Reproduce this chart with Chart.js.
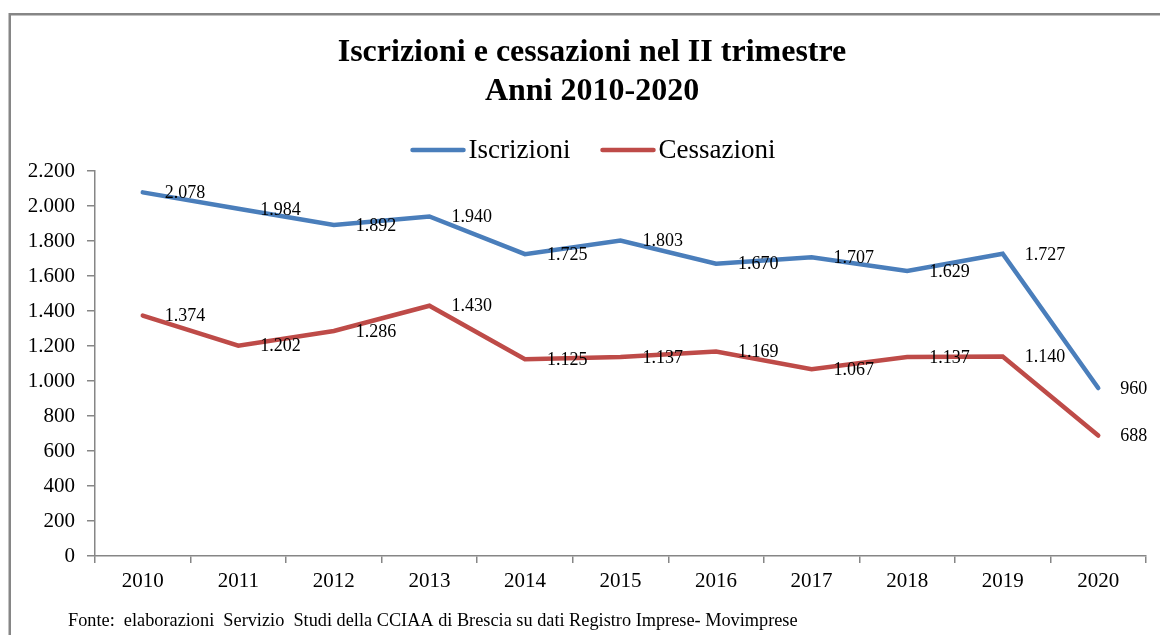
<!DOCTYPE html>
<html lang="it">
<head>
  <meta charset="UTF-8" />
  <title>Iscrizioni e cessazioni nel II trimestre</title>
  <script src="https://cdn.jsdelivr.net/npm/chart.js"></script>
  <style>
    html, body { margin: 0; padding: 0; background: #fff; }
    #wrap { width: 1160px; height: 635px; }
  </style>
</head>
<body>
  <div id="wrap"><canvas id="chart"></canvas></div>

  <script>
    const anni = ["2010", "2011", "2012", "2013", "2014", "2015", "2016", "2017", "2018", "2019", "2020"];
    const iscrizioni = [2078, 1984, 1892, 1940, 1725, 1803, 1670, 1707, 1629, 1727, 960];
    const cessazioni = [1374, 1202, 1286, 1430, 1125, 1137, 1169, 1067, 1137, 1140, 688];
    const titolo = ["Iscrizioni e cessazioni nel II trimestre", "Anni 2010-2020"];
    const fonte = "Fonte:  elaborazioni  Servizio  Studi della CCIAA di Brescia su dati Registro Imprese- Movimprese";

    const serif = "'Liberation Serif', 'Times New Roman', serif";

    // 1234 -> "1.234"
    function fmt(v) {
      return String(v).replace(/\B(?=(\d{3})+(?!\d))/g, ".");
    }

    // grey frame, title, legend, point labels and source line
    const extras = {
      id: "extras",
      beforeDraw(chart) {
        const ctx = chart.ctx;
        ctx.save();
        ctx.fillStyle = "#fff";
        ctx.fillRect(0, 0, chart.width, chart.height);
        ctx.strokeStyle = "#868686";
        ctx.lineWidth = 2.5;
        ctx.strokeRect(9.75, 14.25, 1300, 800);

        ctx.fillStyle = "#000";
        ctx.textAlign = "center";
        ctx.textBaseline = "middle";
        ctx.font = "bold 32px " + serif;
        titolo.forEach((t, i) => ctx.fillText(t, 592, 53 + i * 39));
        ctx.restore();
      },
      afterDatasetsDraw(chart) {
        const ctx = chart.ctx;
        const x = chart.scales.x, y = chart.scales.y;
        ctx.save();
        ctx.font = "18px " + serif;
        ctx.fillStyle = "#000";
        ctx.textAlign = "left";
        ctx.textBaseline = "middle";
        chart.data.datasets.forEach(ds => {
          ds.data.forEach((v, i) => {
            ctx.fillText(fmt(v), x.getPixelForValue(i) + 22, y.getPixelForValue(v) + 1);
          });
        });

        // legend
        ctx.font = "27px " + serif;
        const lineLen = 55, gapText = 3, gapItem = 30;
        let total = 0;
        chart.data.datasets.forEach((ds, i) => {
          total += lineLen + gapText + ctx.measureText(ds.label).width;
          if (i > 0) total += gapItem;
        });
        let lx = 593 - total / 2;
        const ly = 150;
        chart.data.datasets.forEach(ds => {
          ctx.strokeStyle = ds.borderColor;
          ctx.lineWidth = 4.5;
          ctx.lineCap = "round";
          ctx.beginPath();
          ctx.moveTo(lx + 2, ly);
          ctx.lineTo(lx + lineLen - 2, ly);
          ctx.stroke();
          lx += lineLen + gapText;
          ctx.fillText(ds.label, lx, ly + 1);
          lx += ctx.measureText(ds.label).width + gapItem;
        });

        // source
        ctx.font = "18.3px " + serif;
        ctx.fillText(fonte, 68, 621);
        ctx.restore();
      }
    };

    new Chart(document.getElementById("chart"), {
      type: "line",
      data: {
        labels: anni,
        datasets: [
          { label: "Iscrizioni", data: iscrizioni, borderColor: "#4A7EBB", backgroundColor: "#4A7EBB" },
          { label: "Cessazioni", data: cessazioni, borderColor: "#BE4B48", backgroundColor: "#BE4B48" }
        ]
      },
      options: {
        responsive: true,
        maintainAspectRatio: false,
        animation: false,
        layout: { padding: { left: 10, right: 14, top: 171, bottom: 0 } },
        elements: {
          line: { borderWidth: 4.5, tension: 0, borderCapStyle: "round", borderJoinStyle: "miter" },
          point: { radius: 0, hoverRadius: 0 }
        },
        plugins: {
          legend: { display: false },
          tooltip: { enabled: false },
          title: { display: false }
        },
        scales: {
          x: {
            offset: true,
            afterFit(s) { s.height = 79; },
            grid: { offset: true, drawOnChartArea: false, drawTicks: true, tickLength: 7, color: "#868686", lineWidth: 1.5 },
            border: { color: "#868686", width: 1.5 },
            ticks: { color: "#000", padding: 6, font: { family: serif, size: 21 } }
          },
          y: {
            min: 0,
            max: 2200,
            afterFit(s) { s.width = 85; },
            grid: { drawOnChartArea: false, drawTicks: true, tickLength: 8, color: "#868686", lineWidth: 1.5 },
            border: { color: "#868686", width: 1.5 },
            ticks: {
              stepSize: 200,
              color: "#000",
              padding: 12,
              font: { family: serif, size: 21 },
              callback: v => fmt(v)
            }
          }
        }
      },
      plugins: [extras]
    });
  </script>
</body>
</html>
